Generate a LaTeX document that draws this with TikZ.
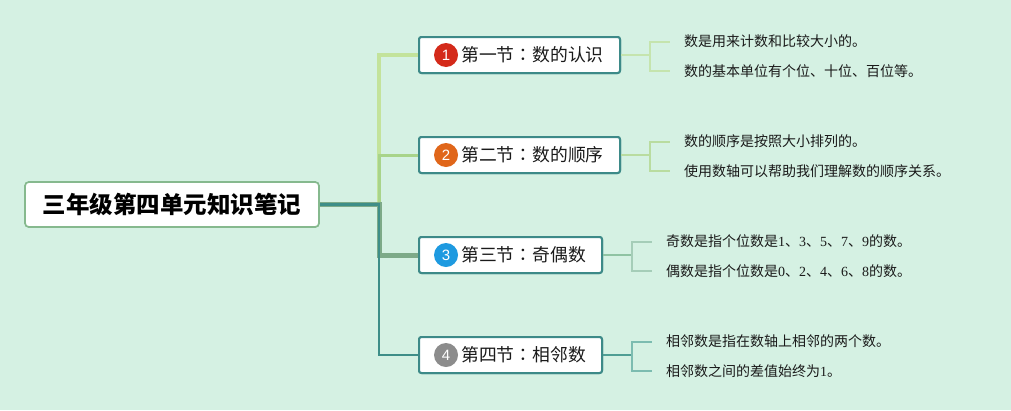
\documentclass[tikz,border=0pt]{standalone}
\usepackage{fontspec}
\setmainfont{Noto Sans CJK SC}
\newfontfamily\numfont{Liberation Serif}
\newfontfamily\badgefont{Liberation Sans}
\newfontfamily\jpfont{Noto Sans CJK JP}
\definecolor{bg}{HTML}{D5F1E3}
\definecolor{boxc}{HTML}{3D8A88}
\definecolor{rootc}{HTML}{86B98E}
\definecolor{txt}{HTML}{1A1A1A}
\definecolor{brA}{HTML}{C3E39B}
\definecolor{brB}{HTML}{A8D48A}
\definecolor{brC}{HTML}{7DAA88}
\definecolor{brD}{HTML}{3E8E88}
\definecolor{lfA}{HTML}{C5E4AE}
\definecolor{lfB}{HTML}{B9DCA0}
\definecolor{lfC}{HTML}{8FC3A3}
\definecolor{lfCb}{HTML}{A5CDB8}
\definecolor{lfD}{HTML}{4F9E94}
\definecolor{lfDb}{HTML}{7CBCB0}
\definecolor{bdA}{HTML}{D42A1A}
\definecolor{bdB}{HTML}{E0661A}
\definecolor{bdC}{HTML}{1E9AE0}
\definecolor{bdD}{HTML}{8C8C8C}
\newcommand{\colonjp}{{\jpfont ：}}
\begin{document}
\begin{tikzpicture}[x=1pt,y=-1pt,
  rootbox/.style={draw=rootc, line width=1.6pt, fill=white, rounded corners=4pt,
    minimum width=294pt, minimum height=45pt, inner sep=0pt, text=black,
    font=\bfseries\fontsize{23.5}{26}\selectfont},
  secbox/.style={draw=boxc, line width=2pt, fill=white, rounded corners=2.5pt,
    minimum height=36pt, inner sep=0pt},
  badge/.style={circle, minimum size=24pt, inner sep=0pt, text=white,
    font=\badgefont\fontsize{15}{15}\selectfont},
  title/.style={anchor=west, inner sep=0pt, text=txt,
    font=\fontsize{17.8}{20}\selectfont},
  leaf/.style={anchor=west, inner ysep=0pt, inner xsep=14pt, text=txt,
    font=\fontsize{14}{16}\selectfont},
  lfline/.style={line width=2pt},
]
\useasboundingbox (0,0) rectangle (1011,410);
\fill[bg] (0,0) rectangle (1011,410);

% root
\node[rootbox] (root) at (172,204.5) {三年级第四单元知识笔记};
\coordinate (trunk) at (379,204.5);

% section boxes
\node[secbox, minimum width=201pt] (b1) at (519.5,55) {};
\node[secbox, minimum width=201pt] (b2) at (519.5,155) {};
\node[secbox, minimum width=183pt] (b3) at (510.5,255) {};
\node[secbox, minimum width=183pt] (b4) at (510.5,355) {};

% branches
\draw[brA, line width=4.5pt] (root.east) -- (trunk) |- (b1.west);
\draw[brB, line width=3pt] (root.east) -- (trunk) |- (b2.west);
\draw[brC, line width=5pt] (root.east) -- (trunk) |- (b3.west);
\draw[brD, line width=2.5pt] (root.east) -- (trunk) |- (b4.west);

% redraw boxes on top of branch ends
\node[secbox, minimum width=201pt] at (b1) {};
\node[secbox, minimum width=201pt] at (b2) {};
\node[secbox, minimum width=183pt] at (b3) {};
\node[secbox, minimum width=183pt] at (b4) {};
\node[rootbox] at (root) {三年级第四单元知识笔记};

% badges and titles
\node[badge, fill=bdA] (c1) at (446,55) {1};
\node[title] (t1) at (461,55) {第一节\colonjp 数的认识};
\node[badge, fill=bdB] (c2) at (446,155) {2};
\node[title] (t2) at (461,155) {第二节\colonjp 数的顺序};
\node[badge, fill=bdC] (c3) at (446,255) {3};
\node[title] (t3) at (461,255) {第三节\colonjp 奇偶数};
\node[badge, fill=bdD] (c4) at (446,355) {4};
\node[title] (t4) at (461,355) {第四节\colonjp 相邻数};

% leaves
\node[leaf] (l11) at (670,41.5) {数是用来计数和比较大小的。};
\node[leaf] (l12) at (670,71) {数的基本单位有个位、十位、百位等。};
\node[leaf] (l21) at (670,141.5) {数的顺序是按照大小排列的。};
\node[leaf] (l22) at (670,171) {使用数轴可以帮助我们理解数的顺序关系。};
\node[leaf] (l31) at (652,241.5) {奇数是指个位数是{\numfont 1}、{\numfont 3}、{\numfont 5}、{\numfont 7}、{\numfont 9}的数。};
\node[leaf] (l32) at (652,271) {偶数是指个位数是{\numfont 0}、{\numfont 2}、{\numfont 4}、{\numfont 6}、{\numfont 8}的数。};
\node[leaf] (l41) at (652,341.5) {相邻数是指在数轴上相邻的两个数。};
\node[leaf] (l42) at (652,371) {相邻数之间的差值始终为{\numfont 1}。};

\coordinate (j1) at (650,55);
\coordinate (j2) at (650,155);
\coordinate (j3) at (632,255);
\coordinate (j4) at (632,355);

\draw[lfline, lfA] (b1.east) -- (j1);
\draw[lfline, lfA] (j1) |- (l11.west);
\draw[lfline, lfA] (j1) |- (l12.west);
\draw[lfline, lfB] (b2.east) -- (j2);
\draw[lfline, lfB] (j2) |- (l21.west);
\draw[lfline, lfB] (j2) |- (l22.west);
\draw[lfline, lfC] (b3.east) -- (j3);
\draw[lfline, lfCb] (j3) |- (l31.west);
\draw[lfline, lfCb] (j3) |- (l32.west);
\draw[lfline, lfD] (b4.east) -- (j4);
\draw[lfline, lfDb] (j4) |- (l41.west);
\draw[lfline, lfDb] (j4) |- (l42.west);
\end{tikzpicture}
\end{document}
